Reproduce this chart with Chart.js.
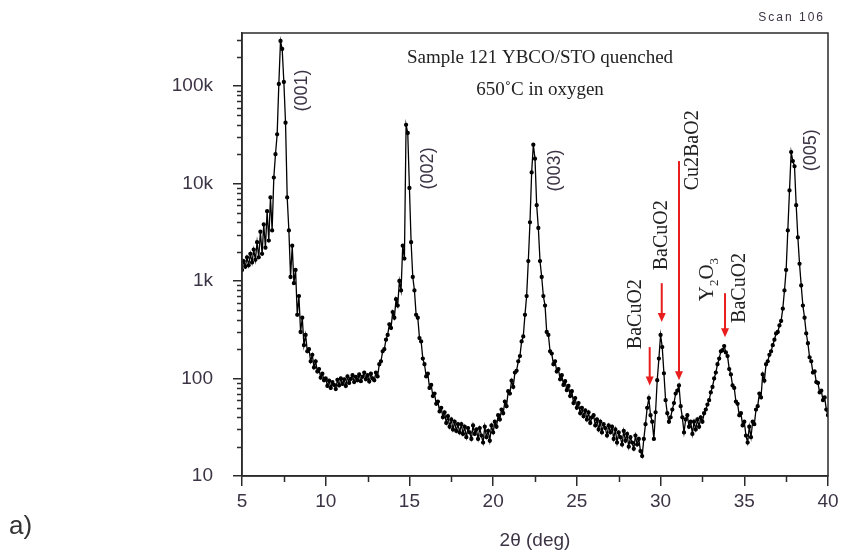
<!DOCTYPE html>
<html>
<head>
<meta charset="utf-8">
<script src="https://cdn.jsdelivr.net/npm/chart.js@4/dist/chart.umd.min.js"></script>
<style>
  html, body { margin: 0; padding: 0; background: #fff; }
  #c { display: block; }
</style>
</head>
<body>
<canvas id="c" width="843" height="552"></canvas>
<script>
// counts, one value every 0.1 deg starting at 5.0
const counts5to10 = [
  1300, 1600, 1400, 1750, 1450, 1900, 1550, 2100, 1650, 2500,
  1750, 3200, 1900, 3800, 2200, 5200, 2600, 7200, 3300, 11500,
  20000, 32000, 105000, 290000, 240000, 110000, 42000, 7200, 3300, 1100,
  2300, 950, 1300, 450, 700, 300, 420, 220, 280, 190,
  200, 150, 175, 130, 150, 118, 125, 102, 112, 96
];
const counts10to20 = [
  100, 84, 95, 80, 92, 86, 78, 97, 85, 100,
  88, 98, 84, 105, 90, 99, 108, 92, 104, 96,
  110, 94, 104, 115, 98, 108, 93, 112, 100, 96,
  115, 105, 140, 150, 190, 200, 250, 280, 360, 330,
  480, 420, 650, 560, 1000, 800, 2300, 1700, 40000, 33000,
  9000, 2500, 1100, 800, 450, 420, 260, 240, 160, 140,
  105, 112, 80, 86, 66, 70, 55, 58, 46, 50,
  40, 45, 35, 41, 32, 38, 30, 36, 29, 34,
  28, 34, 27, 32, 25, 31, 28, 24, 33, 27,
  30, 24, 31, 26, 22, 32, 25, 29, 23, 33
];
const counts20to30 = [
  28, 36, 32, 42, 38, 48, 44, 58, 52, 74,
  70, 95, 82, 115, 120, 150, 170, 240, 270, 450,
  700, 1600, 4000, 13000, 25000, 18000, 6000, 3500, 1600, 1100,
  700, 560, 300, 280, 190, 180, 140, 150, 118, 125,
  98, 108, 86, 94, 76, 84, 66, 74, 56, 63,
  50, 56, 44, 50, 41, 47, 38, 45, 35, 40,
  42, 33, 38, 30, 36, 28, 34, 31, 26, 33,
  28, 32, 24, 30, 22, 28, 25, 21, 29, 23,
  27, 20, 25, 22, 19, 26, 21, 24, 18, 16,
  24, 34, 50, 63, 42, 36, 24, 45, 96, 160
];
const counts30to40 = [
  280, 210, 113, 60, 44, 36, 40, 48, 56, 70,
  75, 85, 52, 40, 28, 38, 42, 32, 36, 27,
  36, 30, 38, 32, 40, 36, 44, 48, 54, 60,
  72, 82, 100, 115, 140, 160, 190, 195, 215, 185,
  170, 125, 110, 85, 80, 58, 55, 42, 44, 33,
  36, 26, 22, 32, 25, 36, 34, 48, 52, 70,
  64, 110, 95, 140, 150, 175, 190, 220, 250, 290,
  300, 350, 390, 520, 800, 1300, 3300, 8500, 21000, 17000,
  15000, 6000, 2800, 1500, 900, 560, 420, 290, 230, 165,
  150, 115, 118, 92, 90, 72, 75, 60, 64, 48,
  42
];
const startAngle = 5.0;
const angleStep = 0.1;

const yTickValues = [10, 100, 1000, 10000, 100000];
const yTickLabels = ['10', '100', '1k', '10k', '100k'];

const counts = [...counts5to10, ...counts10to20, ...counts20to30, ...counts30to40];
const points = counts.map((v, i) => ({ x: +(startAngle + i * angleStep).toFixed(2), y: v }));

const axisColor = '#2b2b2b';
const labelColor = '#3c3344';
const sans = "'Liberation Sans', Arial, sans-serif";
const serif = "'Liberation Serif', 'Times New Roman', serif";

// phase markers: angle, arrow start and tip (counts)
const arrows = [
  { x: 29.35, from: 210, to: 85 },
  { x: 30.07, from: 950, to: 380 },
  { x: 31.1, from: 17000, to: 96 },
  { x: 33.85, from: 750, to: 265 }
];
const rotLabels = [
  { t: '(001)', x: 8.6, y: 90000, font: '18px ' + sans, color: labelColor },
  { t: '(002)', x: 16.1, y: 14300, font: '18px ' + sans, color: labelColor },
  { t: '(003)', x: 23.7, y: 13600, font: '18px ' + sans, color: labelColor },
  { t: '(005)', x: 39.0, y: 21900, font: '18px ' + sans, color: labelColor },
  { t: 'Cu2BaO2', x: 31.94, y: 21900, font: '20px ' + serif, color: '#222' },
  { t: 'BaCuO2', x: 28.53, y: 457, font: '20px ' + serif, color: '#222' },
  { t: 'BaCuO2', x: 30.08, y: 2950, font: '20px ' + serif, color: '#222' },
  { t: 'BaCuO2', x: 34.74, y: 850, font: '20px ' + serif, color: '#222' }
];

const decor = {
  id: 'decor',
  afterDraw(chart) {
    const { ctx, chartArea: a, scales: { x, y } } = chart;
    ctx.save();
    ctx.strokeStyle = axisColor;
    ctx.lineWidth = 1.5;
    ctx.strokeRect(a.left, a.top, a.right - a.left, a.bottom - a.top);

    // minor ticks
    ctx.beginPath();
    for (const d of yTickValues) {
      for (let m = 2; m <= 9; m++) {
        const v = d * m;
        if (v > y.max) break;
        const py = Math.round(y.getPixelForValue(v)) + 0.5;
        ctx.moveTo(a.left - 5, py);
        ctx.lineTo(a.left, py);
      }
    }
    for (let t = 7.5; t < 40; t += 5) {
      const px = Math.round(x.getPixelForValue(t)) + 0.5;
      ctx.moveTo(px, a.bottom);
      ctx.lineTo(px, a.bottom + 6);
    }
    ctx.stroke();

    // arrows
    ctx.strokeStyle = '#e81d1d';
    ctx.fillStyle = '#e81d1d';
    ctx.lineWidth = 2;
    for (const ar of arrows) {
      const px = x.getPixelForValue(ar.x);
      const y1 = y.getPixelForValue(ar.from);
      const y2 = y.getPixelForValue(ar.to);
      ctx.beginPath();
      ctx.moveTo(px, y1);
      ctx.lineTo(px, y2 - 6);
      ctx.stroke();
      ctx.beginPath();
      ctx.moveTo(px - 4, y2 - 9);
      ctx.lineTo(px + 4, y2 - 9);
      ctx.lineTo(px, y2);
      ctx.closePath();
      ctx.fill();
    }

    // rotated labels
    ctx.textAlign = 'center';
    ctx.textBaseline = 'middle';
    for (const l of rotLabels) {
      ctx.save();
      ctx.translate(x.getPixelForValue(l.x), y.getPixelForValue(l.y));
      ctx.rotate(-Math.PI / 2);
      ctx.font = l.font;
      ctx.fillStyle = l.color;
      ctx.fillText(l.t, 0, 0);
      ctx.restore();
    }

    // Y2O3 with subscripts
    ctx.save();
    ctx.translate(x.getPixelForValue(33.12), y.getPixelForValue(620));
    ctx.rotate(-Math.PI / 2);
    ctx.fillStyle = '#222';
    ctx.textAlign = 'left';
    ctx.textBaseline = 'alphabetic';
    let cx = 0;
    for (const [s, sub] of [['Y', false], ['2', true], ['O', false], ['3', true]]) {
      ctx.font = (sub ? '13px ' : '21px ') + serif;
      ctx.fillText(s, cx, sub ? 5 : 0);
      cx += ctx.measureText(s).width;
    }
    ctx.restore();

    // header texts
    ctx.fillStyle = '#222';
    ctx.textAlign = 'center';
    ctx.textBaseline = 'alphabetic';
    ctx.font = '19px ' + serif;
    ctx.fillText('Sample 121 YBCO/STO quenched', 540, 63);
    ctx.fillText('650\u02DAC in oxygen', 540, 95);

    ctx.fillStyle = labelColor;
    ctx.font = '19px ' + sans;
    ctx.fillText('2\u03B8 (deg)', 535, 546);

    ctx.textAlign = 'right';
    ctx.font = '12px ' + sans;
    ctx.letterSpacing = '2px';
    ctx.fillText('Scan 106', 825, 21);
    ctx.letterSpacing = '0px';

    ctx.textAlign = 'left';
    ctx.fillStyle = '#333';
    ctx.font = '26px ' + sans;
    ctx.fillText('a)', 9, 534);
    ctx.restore();
  }
};

new Chart(document.getElementById('c'), {
  type: 'line',
  data: {
    datasets: [{
      data: points,
      borderColor: '#000',
      backgroundColor: '#000',
      borderWidth: 1.3,
      pointRadius: 1.5,
      pointHoverRadius: 0,
      tension: 0
    }]
  },
  options: {
    responsive: false,
    animation: false,
    layout: { padding: { top: 33, right: 15, left: 0, bottom: 0 } },
    plugins: { legend: { display: false }, tooltip: { enabled: false } },
    scales: {
      x: {
        type: 'linear',
        min: 5,
        max: 40,
        ticks: { stepSize: 5, color: labelColor, font: { family: sans, size: 19 }, padding: 4, maxRotation: 0 },
        grid: { display: true, drawOnChartArea: false, tickLength: 10, color: axisColor, lineWidth: 1.5 },
        border: { display: true, color: axisColor, width: 1.5 },
        afterFit: s => { s.height = 76; }
      },
      y: {
        type: 'logarithmic',
        min: 10,
        max: 350000,
        afterBuildTicks: s => { s.ticks = yTickValues.map(v => ({ value: v })); },
        ticks: {
          autoSkip: false,
          color: labelColor,
          font: { family: sans, size: 19 },
          padding: 20,
          callback: v => yTickLabels[yTickValues.indexOf(v)] ?? ''
        },
        grid: { display: true, drawOnChartArea: false, tickLength: 9, color: axisColor, lineWidth: 1.5 },
        border: { display: true, color: axisColor, width: 1.5 },
        afterFit: s => { s.width = 242; }
      }
    }
  },
  plugins: [decor]
});
</script>
</body>
</html>
